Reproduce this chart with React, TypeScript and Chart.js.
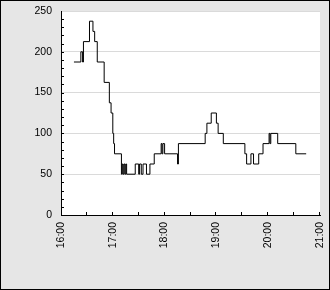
import React, { useEffect, useRef } from "react";
import { Chart, registerables } from "chart.js";

Chart.register(...registerables);

// Time of each reading (HH:MM) and the value held from that time on
const times = [
  "16:15", "16:23", "16:25", "16:26", "16:33", "16:37", "16:39", "16:42", "16:50", "16:56",
  "16:58", "17:00", "17:01", "17:02", "17:10", "17:11", "17:12", "17:13", "17:14", "17:15",
  "17:16", "17:26", "17:30", "17:31", "17:33", "17:35", "17:39", "17:43", "17:48", "17:56",
  "17:57", "17:58", "18:00", "18:15", "18:16", "18:47", "18:49", "18:54", "19:00", "19:02",
  "19:08", "19:33", "19:35", "19:40", "19:43", "19:49", "19:54", "20:01", "20:02", "20:03",
  "20:11", "20:32", "20:44",
];
const values = [
  187.5, 200, 187.5, 212.5, 237.5, 225, 212.5, 187.5, 162.5, 137.5,
  125, 100, 87.5, 75, 50, 62.5, 50, 62.5, 50, 62.5,
  50, 62.5, 50, 62.5, 50, 62.5, 50, 62.5, 75, 87.5,
  75, 87.5, 75, 62.5, 87.5, 100, 112.5, 125, 112.5, 100,
  87.5, 75, 62.5, 75, 62.5, 75, 87.5, 100, 87.5, 100,
  87.5, 75, 75,
];
const startHour = 16;
const xTickHours = ["16:00", "17:00", "18:00", "19:00", "20:00", "21:00"];
const yTicks = [0, 50, 100, 150, 200, 250];

const toMinutes = (t: string) => {
  const [h, m] = t.split(":").map(Number);
  return (h - startHour) * 60 + m;
};

const frame = {
  id: "frame",
  beforeDraw(chart: any) {
    const { ctx, width, height, chartArea } = chart;
    ctx.save();
    ctx.fillStyle = "#e6e6e6";
    ctx.fillRect(0, 0, width, height);
    ctx.fillStyle = "#ffffff";
    ctx.fillRect(chartArea.left, chartArea.top, chartArea.right - chartArea.left, chartArea.bottom - chartArea.top);
    ctx.strokeStyle = "#000";
    ctx.lineWidth = 1;
    ctx.strokeRect(0.5, 0.5, width - 1, height - 1);
    ctx.restore();
  },
  afterDraw(chart: any) {
    const { ctx, chartArea, scales } = chart;
    ctx.save();
    ctx.strokeStyle = "#000";
    ctx.lineWidth = 1;
    ctx.beginPath();
    for (let v = 10; v < 250; v += 10) {
      const y = Math.round(scales.y.getPixelForValue(v)) + 0.5;
      ctx.moveTo(chartArea.left, y);
      ctx.lineTo(chartArea.left + 3, y);
    }
    for (let m = 30; m <= 300; m += 30) {
      const x = Math.round(scales.x.getPixelForValue(m)) - 0.5;
      ctx.moveTo(x, chartArea.bottom);
      ctx.lineTo(x, chartArea.bottom - 3);
    }
    ctx.stroke();
    ctx.restore();
  },
};

export default function App() {
  const ref = useRef<HTMLCanvasElement>(null);
  useEffect(() => {
    document.body.style.margin = "0";
    const font = { family: "'Liberation Sans', Arial, sans-serif", size: 10.5 };
    const chart = new Chart(ref.current!, {
      type: "line",
      data: {
        datasets: [
          {
            data: times.map((t, i) => ({ x: toMinutes(t), y: values[i] })),
            borderColor: "#000",
            borderWidth: 1,
            pointRadius: 0,
            stepped: true,
            fill: false,
          },
        ],
      },
      options: {
        animation: false,
        responsive: false,
        events: [],
        layout: { padding: { top: 11, right: 10, left: 0, bottom: 0 } },
        plugins: { legend: { display: false }, tooltip: { enabled: false } },
        scales: {
          x: {
            type: "linear",
            min: 0,
            max: 300,
            afterBuildTicks(scale: any) {
              scale.ticks = xTickHours.map((h) => ({ value: toMinutes(h) }));
            },
            afterFit(scale: any) {
              scale.height = 75;
              scale.paddingLeft = 0;
              scale.paddingRight = 0;
            },
            ticks: {
              callback: (v: any) => xTickHours[Math.round(Number(v) / 60)] ?? "",
              maxRotation: 90,
              minRotation: 90,
              autoSkip: false,
              padding: 7,
              color: "#000",
              font,
            },
            grid: { display: false, drawTicks: false },
            border: { display: true, color: "#000", width: 1 },
          },
          y: {
            min: 0,
            max: 250,
            afterBuildTicks(scale: any) {
              scale.ticks = yTicks.map((v) => ({ value: v }));
            },
            afterFit(scale: any) {
              scale.width = 61;
              scale.paddingTop = 0;
              scale.paddingBottom = 0;
            },
            ticks: { padding: 9, color: "#000", font },
            grid: {
              color: (c: any) => (c.tick && c.tick.value === 0 ? "rgba(0,0,0,0)" : "#dadada"),
              drawTicks: false,
            },
            border: { display: true, color: "#000", width: 1 },
          },
        },
      },
      plugins: [frame],
    });
    return () => chart.destroy();
  }, []);
  return (
    <div style={{ width: 330, height: 290 }}>
      <canvas ref={ref} width={330} height={290} style={{ display: "block" }} />
    </div>
  );
}
